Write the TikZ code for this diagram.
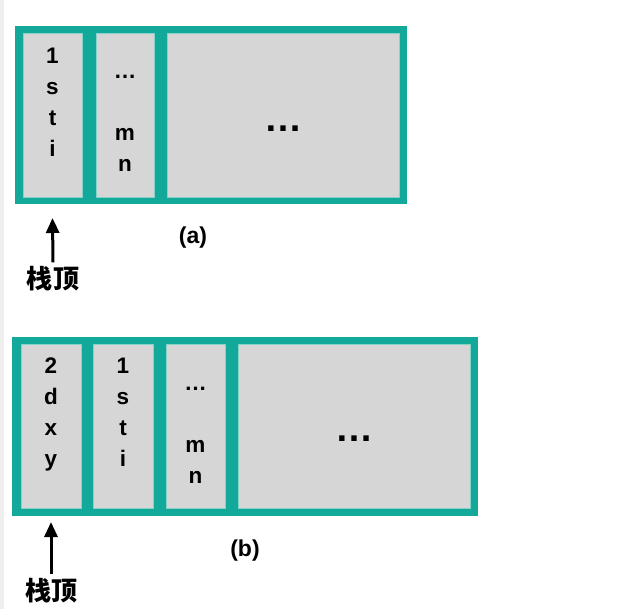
\documentclass[tikz,border=0pt]{standalone}
\usepackage{fontspec}
\setmainfont{Liberation Sans}
\newfontfamily\cjk{Noto Sans CJK SC}
\usetikzlibrary{arrows.meta}
\definecolor{tealx}{HTML}{12A99A}
\definecolor{cellgray}{HTML}{D6D6D6}
\definecolor{celledge}{HTML}{86D2C8}
\definecolor{stripgray}{HTML}{EFEFEF}
\tikzset{
  outerbox/.style={rectangle, fill=tealx, inner sep=0pt, minimum height=178pt},
  cellbox/.style={rectangle, fill=cellgray, draw=celledge, line width=0.8pt, inner sep=0pt, minimum height=164pt},
  lt/.style={font=\fontsize{22.5}{23}\selectfont\bfseries, inner sep=0pt, anchor=base},
  bigdots/.style={font=\fontsize{38}{38}\selectfont\bfseries, inner sep=0pt},
  caption/.style={font=\fontsize{23}{23}\selectfont\bfseries, inner sep=0pt},
  toplabel/.style={font=\fontsize{26}{26}\selectfont\cjk\bfseries, inner sep=0pt},
  uparrow/.style={line width=3pt, -{Triangle[width=13pt,length=15pt]}}
}
\begin{document}
\begin{tikzpicture}[x=1pt,y=-1pt]
\useasboundingbox (0,0) rectangle (631,609);
\fill[stripgray] (0,0) rectangle (4,609);
% ---------- (a)
\node[outerbox, minimum width=392pt] (A) at (211,115) {};
\node[cellbox, minimum width=59pt] (a1) at (52.5,115) {};
\node[cellbox, minimum width=58pt] (a2) at (125,115) {};
\node[cellbox, minimum width=232pt] (a3) at (283,115) {};
\foreach \ch [count=\i] in {1,s,t,i}
  \node[lt] (a1-\i) at (52.5,{64+31*(\i-1)}) {\ch};
\node[lt] (a2-1) at (125,79) {…};
\node[lt] (a2-3) at (125,141) {m};
\node[lt] (a2-4) at (125,172) {n};
\node[bigdots] (a3-1) at (283,129) {…};
\node[caption] (capa) at (193,238) {(a)};
\node[toplabel] (topa) at (53,279) {栈顶};
\coordinate (tipa) at (52.5,218);
\draw[uparrow] ([yshift=4pt]topa.north) -- (tipa);
% ---------- (b)
\node[outerbox, minimum width=466pt, minimum height=179pt] (B) at (245,426.5) {};
\node[cellbox, minimum width=60pt] (b1) at (51,426.3) {};
\node[cellbox, minimum width=60pt] (b2) at (123,426.3) {};
\node[cellbox, minimum width=59pt] (b3) at (195.5,426.3) {};
\node[cellbox, minimum width=232pt] (b4) at (354,426.3) {};
\foreach \ch [count=\i] in {2,d,x,y}
  \node[lt] (b1-\i) at (51,{373+31*(\i-1)}) {\ch};
\foreach \ch [count=\i] in {1,s,t,i}
  \node[lt] (b2-\i) at (123,{373+31*(\i-1)}) {\ch};
\node[lt] (b3-1) at (195.5,390) {…};
\node[lt] (b3-3) at (195.5,452) {m};
\node[lt] (b3-4) at (195.5,483) {n};
\node[bigdots] (b4-1) at (354,439) {…};
\node[caption] (capb) at (245,551) {(b)};
\node[toplabel] (topb) at (51,591) {栈顶};
\coordinate (tipb) at (51,522);
\draw[uparrow] ([yshift=4pt]topb.north) -- (tipb);
\end{tikzpicture}
\end{document}
